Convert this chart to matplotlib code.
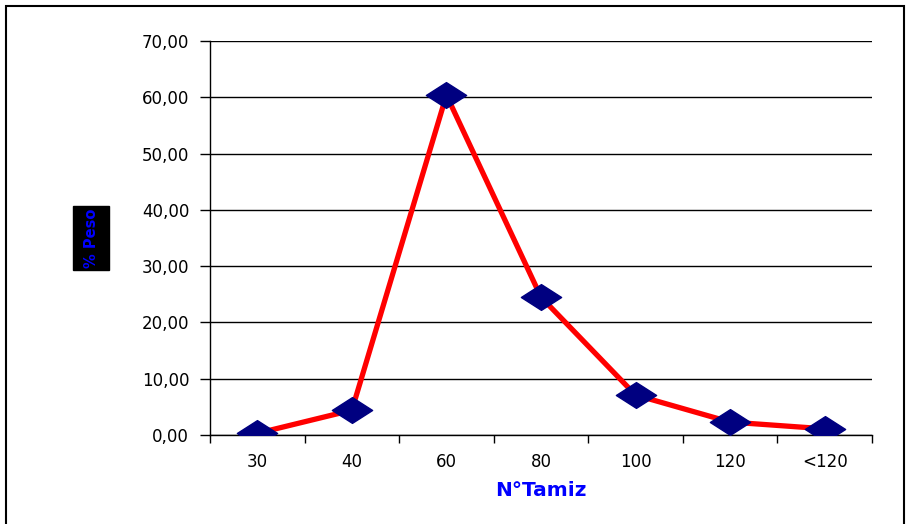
import matplotlib
matplotlib.use("Agg")
import matplotlib.pyplot as plt
from matplotlib.patches import Rectangle
from matplotlib.path import Path

categories = ["30", "40", "60", "80", "100", "120", "<120"]
values = [0.3, 4.4, 60.4, 24.5, 7.1, 2.3, 1.1]
yticks = [0, 10, 20, 30, 40, 50, 60, 70]
ytick_labels = ["0,00", "10,00", "20,00", "30,00", "40,00", "50,00", "60,00", "70,00"]

W, H = 907, 524
fig = plt.figure(figsize=(W / 100, H / 100), dpi=100)
fig.patch.set_facecolor("white")

# outer border
fig.add_artist(Rectangle((6 / W, -0.05), (904 - 6) / W, 1.05 - 6 / H,
                         transform=fig.transFigure, fill=False,
                         edgecolor="black", linewidth=1.5))

left, right, top, bottom = 210, 872, 41, 435
ax = fig.add_axes([left / W, 1 - bottom / H, (right - left) / W, (bottom - top) / H])

wide_diamond = Path([(-1, 0), (0, 0.64), (1, 0), (0, -0.64), (-1, 0)],
                    [Path.MOVETO, Path.LINETO, Path.LINETO, Path.LINETO, Path.CLOSEPOLY])

x = list(range(len(categories)))
ax.plot(x, values, color="#ff0000", linewidth=3.8, zorder=3)
ax.plot(x, values, linestyle="none", marker=wide_diamond, markersize=29,
        markerfacecolor="#000080", markeredgecolor="#000080", zorder=4)

tick_font = dict(fontsize=12, family="DejaVu Sans")
ax.set_xlim(-0.5, len(categories) - 0.5)
ax.set_ylim(0, 70)
ax.set_yticks(yticks)
ax.set_yticklabels(ytick_labels, **tick_font)
ax.set_xticks(x)
ax.set_xticklabels(categories, **tick_font)
ax.set_xticks([i - 0.5 for i in range(len(categories) + 1)], minor=True)
ax.tick_params(axis="x", which="major", length=0, pad=13)
ax.tick_params(axis="x", which="minor", length=6, direction="out", width=1)
ax.tick_params(axis="y", length=7, direction="out", width=1, pad=8)

ax.grid(axis="y", color="black", linewidth=1)
ax.set_axisbelow(True)
for s in ["top", "right"]:
    ax.spines[s].set_visible(False)
ax.spines["left"].set_linewidth(1)
ax.spines["bottom"].set_linewidth(1)

ax.set_xlabel("N°Tamiz", fontsize=14.5, fontweight="bold", color="#0000ff",
              family="DejaVu Sans", labelpad=7)

# y label on black box
fig.add_artist(Rectangle((73 / W, 1 - 270 / H), 36 / W, 64 / H,
                         transform=fig.transFigure, facecolor="black",
                         edgecolor="black", zorder=5))
fig.text(91 / W, 1 - 238 / H, "% Peso", rotation=90, ha="center", va="center",
         fontsize=10.5, fontweight="bold", color="#0000ff", family="DejaVu Sans",
         zorder=6)

fig.savefig("out.png", dpi=100)
